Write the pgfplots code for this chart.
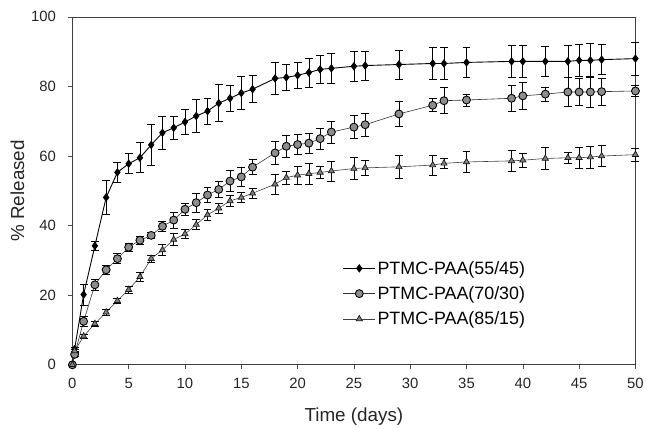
\documentclass[border=0pt]{standalone}
\usepackage{fontspec}
\setmainfont{Liberation Sans}
\usepackage{pgfplots}
\usepackage{pgfplotstable}
\pgfplotsset{compat=1.18}

% time (days), % released, error
\pgfplotstableread{
x y e
0 0 0
0.2 4.5 0.5
1 20.2 3.0
2 34.2 1.2
3 48.1 4.8
4 55.3 2.8
5 57.8 2.9
6 59.5 4.3
7 63.2 5.9
8 66.7 4.8
9 68.1 3.4
10 69.8 3.5
11 71.5 4.8
12 72.9 3.7
13 75.2 5.3
14 76.6 3.8
15 78.1 4.7
16 79.2 3.9
18 82.3 4.6
19 82.6 3.8
20 83.2 3.8
21 84.0 4.2
22 84.9 3.9
23 85.2 4.2
25 85.8 4.2
26 86.0 4.2
29 86.3 4.2
32 86.6 4.5
33 86.6 4.5
35 86.9 4.2
39 87.2 4.5
40 87.2 4.5
42 87.2 4.4
44 87.2 4.7
45 87.5 4.6
46 87.5 5.0
47 87.7 4.3
50 88.0 4.7
}\datA

\pgfplotstableread{
x y e
0 0 0
0.2 3 0.5
1 12.5 1.5
2 23 1.7
3 27.3 1.2
4 30.5 1.4
5 33.8 1.2
6 35.8 1.1
7 37.2 0.8
8 39.8 1.4
9 41.6 2.3
10 44.7 1.8
11 46.6 2.8
12 48.8 2.1
13 50.4 2.4
14 52.8 3.0
15 54.0 2.8
16 56.8 2.2
18 60.9 3.4
19 62.8 3.2
20 63.3 2.9
21 63.7 2.8
22 65.0 3.1
23 66.9 3.2
25 68.3 3.3
26 69.0 3.3
29 72.1 3.7
32 74.6 1.9
33 75.9 3.7
35 76.1 1.7
39 76.6 3.8
40 77.3 3.8
42 77.8 2.0
44 78.4 4.2
45 78.4 3.9
46 78.4 4.4
47 78.5 3.9
50 78.7 1.6
}\datB

\pgfplotstableread{
x y e
0 0 0
0.2 4 0.5
1 8.2 0.6
2 11.8 0.8
3 15.1 0.8
4 18.4 0.8
5 21.6 1.0
6 25.3 1.2
7 30.5 1.1
8 33.0 1.5
9 36.0 1.8
10 37.6 1.2
11 40.3 1.5
12 43.1 1.5
13 45.0 1.5
14 47.1 1.5
15 48.1 1.5
16 49.3 1.4
18 51.9 2.8
19 53.8 1.9
20 54.5 2.5
21 54.9 3.0
22 55.3 1.8
23 55.7 2.9
25 56.4 3.1
26 56.6 2.2
29 56.9 3.2
32 57.4 2.9
33 57.9 1.5
35 58.3 3.0
39 58.6 2.9
40 58.8 2.0
42 59.3 3.2
44 59.5 1.6
45 59.5 3.0
46 59.7 3.1
47 60.0 3.1
50 60.4 1.9
}\datC

\begin{document}
\begin{tikzpicture}
\begin{axis}[
    scale only axis,
    width=568pt, height=351pt,
    xmin=0, xmax=50, ymin=0, ymax=100,
    xtick={0,5,...,50}, ytick={0,20,...,100},
    tick align=outside, xtick pos=lower, ytick pos=left,
    major tick length=4pt,
    tick style={black!70, line width=0.6pt},
    axis line style={black!75, line width=0.7pt},
    /pgf/number format/assume math mode=true,
    tick label style={font=\fontsize{15}{17}\selectfont, black!85},
    xticklabel style={yshift=-6pt},
    yticklabel style={xshift=-9pt},
    xlabel={Time (days)},
    ylabel={\% Released},
    label style={font=\fontsize{19}{22}\selectfont, black!85},
    xlabel style={yshift=-12pt},
    ylabel style={yshift=0pt},
    clip=false,
    legend cell align=left,
    legend style={at={(rel axis cs:0.475,0.31)}, anchor=north west,
        draw=none, fill=none, font=\fontsize{18}{20}\selectfont,
        row sep=7pt},
    legend image code/.code={
        \draw[mark repeat=2, mark phase=2, #1] plot coordinates {(0pt,0pt) (16pt,0pt) (32pt,0pt)};
    },
    every axis plot/.append style={
        error bars/y dir=both, error bars/y explicit,
        error bars/error bar style={black, line width=0.7pt},
        error bars/error mark options={rotate=90, mark size=4pt, line width=0.7pt, black},
    },
]
\addplot[black, line width=0.9pt, mark=diamond*, mark size=3.6pt,
    mark options={fill=black}]
    table[x=x, y=y, y error=e] {\datA};
\addlegendentry{PTMC-PAA(55/45)}

\addplot[black!80, line width=0.6pt, mark=*, mark size=4pt,
    mark options={fill=black!45, draw=black, line width=0.9pt}]
    table[x=x, y=y, y error=e] {\datB};
\addlegendentry{PTMC-PAA(70/30)}

\addplot[black!75, line width=0.6pt, mark=triangle*, mark size=3.6pt,
    mark options={fill=black!50, draw=black!90, line width=0.7pt}]
    table[x=x, y=y, y error=e] {\datC};
\addlegendentry{PTMC-PAA(85/15)}
\end{axis}
\path (current axis.north east) ++(6pt,17pt);
\path (current axis.south west) ++(-73pt,-63pt);
\end{tikzpicture}
\end{document}
